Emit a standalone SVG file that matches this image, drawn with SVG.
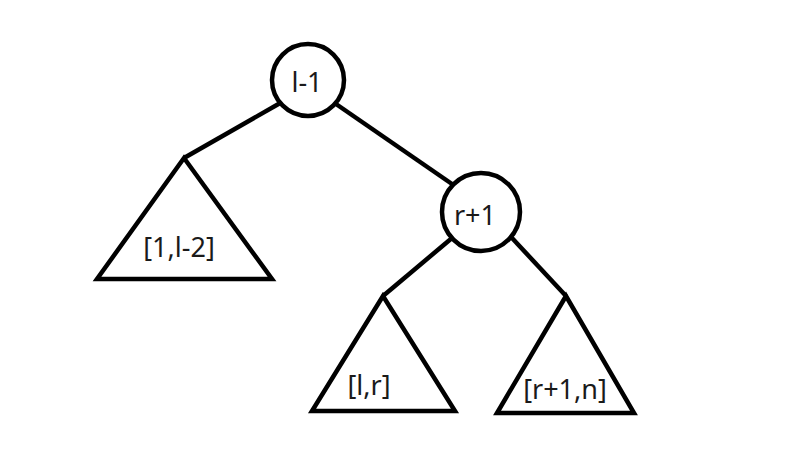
<svg xmlns="http://www.w3.org/2000/svg" width="809" height="466" viewBox="0 0 809 466">
<style>
.s{fill:none;stroke:#000;stroke-width:4.5;stroke-linejoin:miter}
.n{fill:#fff;stroke:#000;stroke-width:4.5}
.t{font-family:"Noto Sans","Open Sans",sans-serif;font-size:27px;fill:#1a1a1a;text-anchor:middle}
</style>
<rect width="809" height="466" fill="#fff"/>
<g id="edges">
<line class="s" x1="184" y1="158" x2="282" y2="102"/>
<line class="s" x1="336" y1="104" x2="452" y2="184"/>
<line class="s" x1="452" y1="238" x2="383" y2="296"/>
<line class="s" x1="512" y1="238" x2="566" y2="296"/>
</g>
<g id="t1">
<polygon class="s" points="184,158 97,279 272,279"/>
<text class="t" x="179" y="257">[1,l-2]</text>
</g>
<g id="t2">
<polygon class="s" points="383,296 312,411 455,411"/>
<text class="t" x="369" y="395">[l,r]</text>
</g>
<g id="t3">
<polygon class="s" points="566,296 497,413 634,413"/>
<text class="t" x="565" y="399">[r+1,n]</text>
</g>
<g id="root">
<circle class="n" cx="308" cy="80" r="36"/>
<text class="t" x="307" y="92">l-1</text>
</g>
<g id="r1">
<circle class="n" cx="481" cy="212" r="39"/>
<text class="t" x="475" y="225">r+1</text>
</g>
</svg>
